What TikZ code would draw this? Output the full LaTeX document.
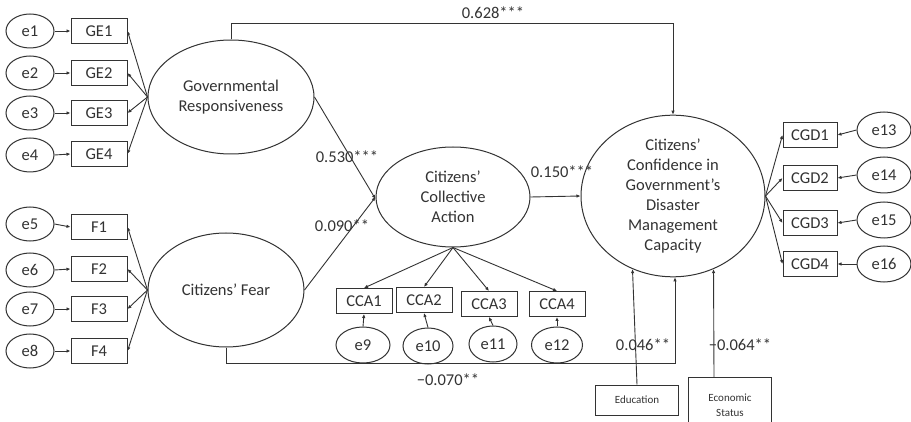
\documentclass[tikz,border=0pt]{standalone}
\usepackage{fontspec}
\setmainfont{Carlito}
\usetikzlibrary{shapes.geometric,arrows.meta}
\definecolor{ink}{HTML}{333333}
\tikzset{
  lat/.style={ellipse,draw=ink,text=ink,line width=1pt,inner sep=0pt,align=center,font=\fontsize{16.5}{20}\selectfont},
  err/.style={ellipse,draw=ink,text=ink,line width=1pt,inner sep=0pt,minimum width=48pt,minimum height=34pt,font=\fontsize{16.5}{20}\selectfont},
  obs/.style={rectangle,draw=ink,text=ink,line width=1pt,inner sep=0pt,minimum width=56pt,minimum height=25pt,font=\fontsize{16.5}{20}\selectfont},
  cov/.style={rectangle,draw=ink,text=ink,line width=1pt,inner sep=0pt,align=center,font=\fontsize{11}{15}\selectfont},
  arr/.style={draw=ink,line width=0.9pt,-{Latex[length=4pt,width=3.5pt]}},
  coef/.style={text=ink,inner sep=0pt,font=\fontsize{16.5}{20}\selectfont},
}
\begin{document}
\begin{tikzpicture}[x=1pt,y=-1pt]
\useasboundingbox (0,0) rectangle (911,422);
\fill[white] (0,0) rectangle (911,422);
% Governmental Responsiveness block
\node[lat,minimum width=166pt,minimum height=114pt] (GR) at (231,97) {Governmental\\Responsiveness};
\node[obs] (GE1) at (99,31) {GE1};
\node[obs] (GE2) at (99,73) {GE2};
\node[obs] (GE3) at (99,113) {GE3};
\node[obs] (GE4) at (99,154) {GE4};
\node[err] (e1) at (30,31) {e1};
\node[err] (e2) at (30,73) {e2};
\node[err] (e3) at (30,113) {e3};
\node[err] (e4) at (30,155) {e4};
% Fear block
\node[lat,minimum width=156pt,minimum height=114pt] (FE) at (226,290) {Citizens’ Fear};
\node[obs] (F1) at (99,227) {F1};
\node[obs] (F2) at (99,269) {F2};
\node[obs] (F3) at (99,309) {F3};
\node[obs] (F4) at (99,351) {F4};
\node[err] (e5) at (30,224) {e5};
\node[err] (e6) at (30,270) {e6};
\node[err] (e7) at (30,309) {e7};
\node[err] (e8) at (30,351) {e8};
% Collective action
\node[lat,minimum width=154pt,minimum height=100pt] (CCA) at (453,197) {Citizens’\\Collective\\Action};
\node[obs] (C1) at (364,301) {CCA1};
\node[obs] (C2) at (424,300) {CCA2};
\node[obs] (C3) at (489,304) {CCA3};
\node[obs] (C4) at (557,304) {CCA4};
\node[err,minimum width=54pt,minimum height=36pt] (e9) at (363,345) {e9};
\node[err,minimum width=50pt,minimum height=36pt] (e10) at (428,346) {e10};
\node[err,minimum width=48pt,minimum height=36pt] (e11) at (493,344) {e11};
\node[err,minimum width=51pt,minimum height=36pt] (e12) at (557,345) {e12};
% Confidence
\node[lat,minimum width=184pt,minimum height=142pt] (CGD) at (673,196) {Citizens’\\Confidence in\\Government’s\\Disaster\\Management\\Capacity};
\node[obs,minimum width=54pt] (G1) at (810,135) {CGD1};
\node[obs,minimum width=54pt] (G2) at (810,178) {CGD2};
\node[obs,minimum width=54pt] (G3) at (810,223) {CGD3};
\node[obs,minimum width=54pt] (G4) at (810,264) {CGD4};
\node[err,minimum width=54pt,minimum height=36pt] (e13) at (884,130) {e13};
\node[err,minimum width=54pt,minimum height=36pt] (e14) at (884,175) {e14};
\node[err,minimum width=54pt,minimum height=36pt] (e15) at (884,220) {e15};
\node[err,minimum width=54pt,minimum height=36pt] (e16) at (884,264) {e16};
% Covariates
\node[cov,minimum width=83pt,minimum height=30pt] (EDU) at (637,400) {Education};
\node[cov,minimum width=83pt,minimum height=56pt,anchor=north] (ECO) at (730,377) {Economic\\Status};
% coordinates for routed paths
\coordinate (top) at (0,23);
\coordinate (bot) at (0,363);
% measurement arrows
\foreach \e/\b in {e1/GE1,e2/GE2,e3/GE3,e4/GE4,e5/F1,e6/F2,e7/F3,e8/F4}{\draw[arr] (\e.east) -- (\b.west);}
\foreach \b in {GE1,GE2,GE3,GE4}{\draw[arr] (GR.west) -- (\b.east);}
\foreach \b in {F1,F2,F3,F4}{\draw[arr] (FE.west) -- (\b.east);}
\foreach \b in {C1,C2,C3,C4}{\draw[arr] (CCA.south) -- (\b.north);}
\foreach \e/\b in {e9/C1,e10/C2,e11/C3,e12/C4}{\draw[arr] (\e.north) -- (\b.south);}
\foreach \b in {G1,G2,G3,G4}{\draw[arr] (CGD.east) -- (\b.west);}
\foreach \e/\b in {e13/G1,e14/G2,e15/G3,e16/G4}{\draw[arr] (\e.west) -- (\b.east);}
% structural paths
\draw[arr] (GR.east) -- ([yshift=-2pt]CCA.west);
\draw[arr] (FE.east) -- (CCA.west);
\draw[arr] (CCA.east) -- (CGD.west);
\draw[arr] (GR.north) -- (GR.north |- top) -| (CGD.north);
\draw[arr] (FE.south) -- (FE.south |- bot) -| ([xshift=2pt]CGD.south);
\draw[arr] (EDU.north) -- (CGD.-119);
\draw[arr] ([xshift=-16pt]ECO.north) -- (CGD.-61);
% coefficients
\node[coef] (k1) at (493,13) {0.628***};
\node[coef] (k2) at (347,157) {0.530***};
\node[coef] (k3) at (342,226) {0.090**};
\node[coef] (k4) at (562,172) {0.150***};
\node[coef] (k5) at (448,380) {−0.070**};
\node[coef] (k6) at (643,345) {0.046**};
\node[coef] (k7) at (740,345) {−0.064**};
\end{tikzpicture}
\end{document}
